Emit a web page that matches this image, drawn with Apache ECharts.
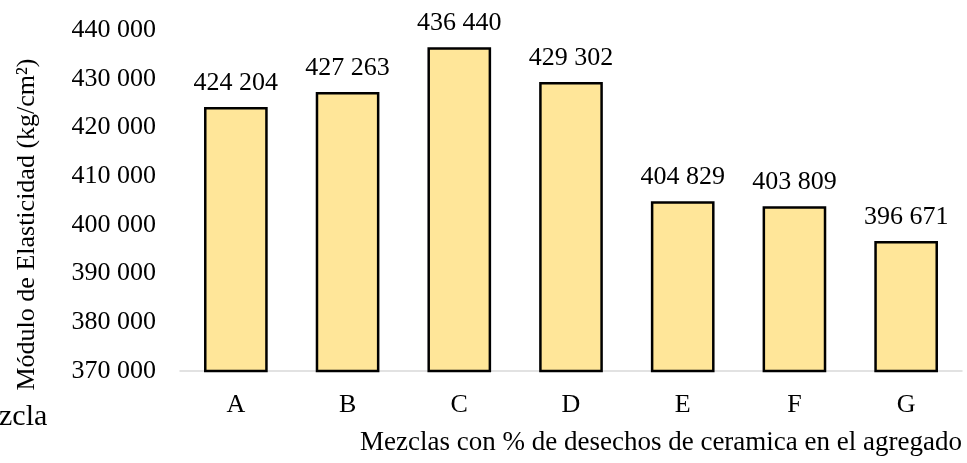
<!DOCTYPE html>
<html>
<head>
<meta charset="utf-8">
<script src="https://cdn.jsdelivr.net/npm/echarts@6/dist/echarts.min.js"></script>
<style>
    html,body{margin:0;padding:0;background:#fff;}
    #chart{width:967px;height:463px;}
</style>
</head>
<body>
<div id="chart"></div>
<script>
var categories = ['A','B','C','D','E','F','G'];
var values = [424204,427263,436440,429302,404829,403809,396671];
var yMin = 370000;
var yMax = 440000;
var yStep = 10000;

function fmt(v){
    return String(v).replace(/\B(?=(\d{3})+(?!\d))/g,' ');
}

var font = '"Liberation Serif","Times New Roman",serif';
var fs = 26;
var chart = echarts.init(document.getElementById('chart'));
var option = {
    animation:false,
    textStyle:{fontFamily:font},
    grid:{left:180,right:5,top:30,bottom:92,outerBoundsMode:'none'},
    graphic:[
        {
            type:'text',
            left:-1,
            top:402,
            style:{text:'zcla',font:'30px '+font,fill:'#000'}
        }
    ],
    xAxis:{
        type:'category',
        data:categories,
        axisLine:{lineStyle:{color:'#d9d9d9',width:1.5}},
        axisTick:{show:false},
        axisLabel:{color:'#000',fontSize:fs,fontFamily:font,margin:21},
        name:'Mezclas con % de desechos de ceramica en el agregado',
        nameLocation:'middle',
        nameGap:58,
        nameTextStyle:{color:'#000',fontSize:27,fontFamily:font,padding:[0,0,0,180]}
    },
    yAxis:{
        type:'value',
        min:yMin,
        max:yMax,
        interval:yStep,
        splitLine:{show:false},
        axisLine:{show:false},
        axisTick:{show:false},
        axisLabel:{color:'#000',fontSize:fs,fontFamily:font,margin:24,formatter:fmt},
        name:'Módulo de Elasticidad (kg/cm²)',
        nameLocation:'middle',
        nameGap:140,
        nameRotate:90,
        nameTextStyle:{color:'#000',fontSize:fs,fontFamily:font,padding:[0,48,0,0]}
    },
    series:[
        {
            type:'bar',
            data:values,
            barWidth:'57%',
            itemStyle:{color:'#FFE699',borderColor:'#000',borderWidth:2.5},
            label:{
                show:true,
                position:'top',
                distance:11,
                color:'#000',
                fontSize:fs,
                fontFamily:font,
                formatter:function(p){return fmt(p.value);}
            }
        }
    ]
};
chart.setOption(option);
</script>
</body>
</html>
